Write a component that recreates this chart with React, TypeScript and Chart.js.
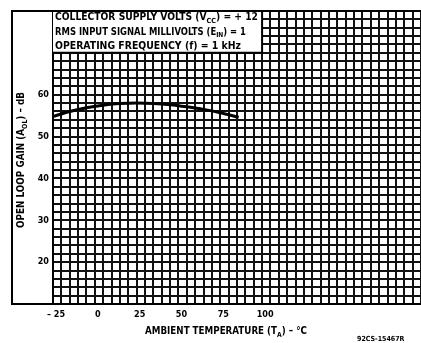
import { useEffect, useRef } from 'react';
import { Chart, registerables } from 'chart.js';

Chart.register(...registerables);

const TEMPS = [-25, -15, -5, 5, 15, 25, 35, 45, 55, 65, 75, 86];
const GAIN = [54.8, 56.0, 56.9, 57.5, 57.9, 58.0, 57.9, 57.6, 57.1, 56.5, 55.7, 54.6];
const X_LABELS = [-25, 0, 25, 50, 75, 100];
const Y_LABELS = [20, 30, 40, 50, 60];
const NOTE_LINES = [
  [{ t: 'COLLECTOR SUPPLY VOLTS (V' }, { t: 'CC', sub: true }, { t: ') = + 12' }],
  [{ t: 'RMS INPUT SIGNAL MILLIVOLTS (E' }, { t: 'IN', sub: true }, { t: ') = 1' }],
  [{ t: 'OPERATING FREQUENCY (f) = 1 kHz' }],
];
const Y_TITLE = [{ t: 'OPEN LOOP GAIN (A' }, { t: 'OL', sub: true }, { t: ') – dB' }];
const X_TITLE = [{ t: 'AMBIENT TEMPERATURE (T' }, { t: 'A', sub: true }, { t: ') – °C' }];
const CODE = '92CS-15467R';

const FONT = '"Liberation Sans Narrow", "DejaVu Sans Condensed", "Liberation Sans", sans-serif';

type Seg = { t: string; sub?: boolean };

function rich(ctx: CanvasRenderingContext2D, segs: Seg[], x: number, y: number, size: number, width: number | null, align: 'left' | 'center') {
  const fontMain = `bold ${size}px ${FONT}`;
  const fontSub = `bold ${Math.round(size * 0.7)}px ${FONT}`;
  let total = 0;
  const ws = segs.map((s) => {
    ctx.font = s.sub ? fontSub : fontMain;
    const w = ctx.measureText(s.t).width;
    total += w;
    return w;
  });
  const sc = width ? width / total : 1;
  ctx.save();
  ctx.translate(align === 'center' ? x - (total * sc) / 2 : x, y);
  ctx.scale(sc, 1);
  ctx.textAlign = 'left';
  ctx.textBaseline = 'alphabetic';
  ctx.fillStyle = '#000';
  let cx = 0;
  segs.forEach((s, i) => {
    ctx.font = s.sub ? fontSub : fontMain;
    ctx.fillText(s.t, cx, s.sub ? size * 0.28 : 0);
    cx += ws[i];
  });
  ctx.restore();
}

const decor = {
  id: 'decor',
  beforeDraw(chart: any) {
    const ctx = chart.ctx;
    ctx.save();
    ctx.fillStyle = '#fff';
    ctx.fillRect(0, 0, chart.width, chart.height);
    ctx.restore();
  },
  afterDraw(chart: any) {
    const ctx: CanvasRenderingContext2D = chart.ctx;
    const { left, top, bottom } = chart.chartArea;
    const xs = chart.scales.x;
    const ys = chart.scales.y;
    const bx = xs.getPixelForValue(100);
    const by = ys.getPixelForValue(70);
    ctx.save();
    ctx.fillStyle = '#fff';
    ctx.fillRect(left, top, bx - left, by - top);
    ctx.strokeStyle = '#000';
    ctx.lineWidth = 2;
    ctx.beginPath();
    ctx.moveTo(left, by);
    ctx.lineTo(bx, by);
    ctx.lineTo(bx, top);
    ctx.stroke();
    ctx.beginPath();
    ctx.moveTo(left, bottom);
    ctx.lineTo(12, bottom);
    ctx.lineTo(12, top);
    ctx.lineTo(chart.width, top);
    ctx.stroke();
    ctx.restore();

    const noteW = [203, 191, 186];
    NOTE_LINES.forEach((segs, i) => {
      rich(ctx, segs, left + 2, top + 9 + i * 14.5, 10, noteW[i], 'left');
    });

    ctx.save();
    ctx.translate(24, 160);
    ctx.rotate(-Math.PI / 2);
    rich(ctx, Y_TITLE, 0, 0, 10, 136, 'center');
    ctx.restore();

    rich(ctx, X_TITLE, 226, 334, 10, 162, 'center');

    ctx.save();
    ctx.font = `bold 7px ${FONT}`;
    ctx.fillStyle = '#000';
    ctx.textAlign = 'left';
    ctx.textBaseline = 'alphabetic';
    ctx.fillText(CODE, 357, 341);
    ctx.restore();
  },
};

export default function App() {
  const ref = useRef<HTMLCanvasElement | null>(null);
  useEffect(() => {
    if (!ref.current) return;
    const chart = new Chart(ref.current, {
      type: 'line',
      data: {
        datasets: [
          {
            data: TEMPS.map((t, i) => ({ x: t, y: GAIN[i] })),
            borderColor: '#000',
            borderWidth: 3,
            pointRadius: 0,
            tension: 0.4,
            cubicInterpolationMode: 'monotone',
            fill: false,
          },
        ],
      },
      options: {
        animation: false,
        responsive: false,
        events: [],
        layout: { padding: { top: 11, left: 0, right: 0, bottom: 0 } },
        plugins: { legend: { display: false }, tooltip: { enabled: false } },
        scales: {
          x: {
            type: 'linear',
            min: -25,
            max: 195,
            border: { display: true, color: '#000', width: 2 },
            grid: { color: '#111', lineWidth: 2, drawTicks: false },
            ticks: {
              stepSize: 5,
              autoSkip: false,
              maxTicksLimit: 200,
              maxRotation: 0,
              padding: 5,
              labelOffset: 3,
              color: '#000',
              font: { family: FONT, size: 9, weight: 'bold' },
              callback: (v: any) => {
                const n = Math.round(Number(v));
                if (!X_LABELS.includes(n)) return '';
                return n < 0 ? '– ' + Math.abs(n) : String(n);
              },
            },
            afterFit: (s: any) => {
              s.height = 39;
            },
          },
          y: {
            type: 'linear',
            min: 10,
            max: 80,
            border: { display: true, color: '#000', width: 2 },
            grid: { color: '#111', lineWidth: 2, drawTicks: false },
            ticks: {
              stepSize: 2,
              autoSkip: false,
              maxTicksLimit: 200,
              padding: 4,
              color: '#000',
              font: { family: FONT, size: 9, weight: 'bold' },
              callback: (v: any) => {
                const n = Math.round(Number(v));
                return Y_LABELS.includes(n) ? String(n) : '';
              },
            },
            afterFit: (s: any) => {
              s.width = 53;
            },
          },
        },
      },
      plugins: [decor],
    });
    return () => chart.destroy();
  }, []);
  return (
    <div style={{ position: 'fixed', left: 0, top: 0, width: 421, height: 343, overflow: 'hidden', background: '#fff' }}>
      <canvas ref={ref} width={426} height={343} style={{ display: 'block', width: 426, height: 343 }} />
    </div>
  );
}
